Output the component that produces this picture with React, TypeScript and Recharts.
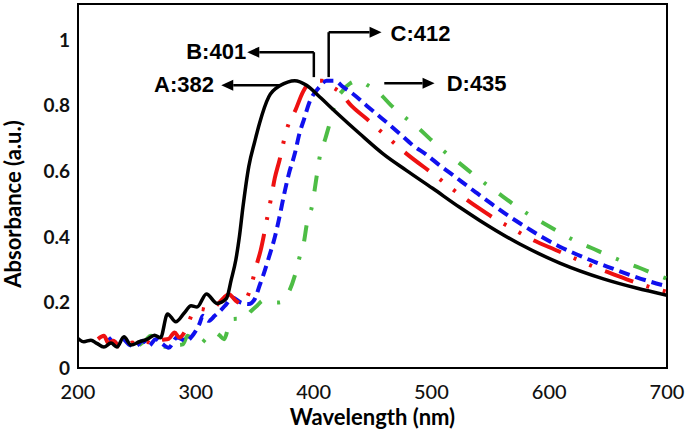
import React from 'react'
import {
  ComposedChart,
  Line,
  XAxis,
  YAxis,
  ReferenceLine,
  ReferenceDot,
  ReferenceArea,
  Label,
} from 'recharts'

// A: 382 nm (black, solid)
const wavelengthA = [200, 205, 211, 216, 222, 228, 233, 239, 245, 252, 259, 265, 270, 276, 283, 290, 296, 301, 309, 318, 326, 330, 334, 337, 340, 345, 350, 354, 362, 372, 378, 384, 394, 405, 419, 439, 459, 479, 501, 524, 541, 575, 609, 646, 674, 700]
const absorbanceA = [0.09, 0.08, 0.085, 0.075, 0.064, 0.076, 0.064, 0.095, 0.07, 0.08, 0.088, 0.1, 0.092, 0.165, 0.141, 0.167, 0.19, 0.186, 0.226, 0.197, 0.212, 0.268, 0.33, 0.4, 0.49, 0.615, 0.69, 0.745, 0.827, 0.862, 0.872, 0.876, 0.862, 0.827, 0.78, 0.715, 0.653, 0.602, 0.548, 0.49, 0.45, 0.378, 0.32, 0.272, 0.244, 0.222]

// B: 401 nm (red, dash-dot-dot)
const wavelengthB = [217, 222, 226, 230, 235, 240, 246, 252, 258, 264, 270, 277, 282, 286, 292, 297, 304, 312, 320, 324, 328, 334, 339, 347, 351, 355, 361, 364, 367, 371, 377, 385, 391, 396, 401, 407, 413, 422, 432, 445, 456, 479, 504, 517, 540, 554, 568, 582, 608, 623, 637, 653, 679, 700]
const absorbanceB = [0.088, 0.098, 0.075, 0.083, 0.065, 0.06, 0.078, 0.07, 0.08, 0.072, 0.085, 0.089, 0.108, 0.093, 0.12, 0.164, 0.18, 0.175, 0.2, 0.215, 0.225, 0.205, 0.195, 0.25, 0.307, 0.358, 0.465, 0.52, 0.578, 0.633, 0.725, 0.79, 0.842, 0.868, 0.876, 0.876, 0.862, 0.842, 0.8, 0.76, 0.725, 0.653, 0.585, 0.548, 0.488, 0.455, 0.427, 0.398, 0.356, 0.332, 0.31, 0.288, 0.254, 0.232]

// C: 412 nm (blue, dashed)
const wavelengthC = [226, 232, 238, 244, 249, 255, 260, 266, 271, 277, 284, 292, 297, 303, 306, 311, 316, 321, 326, 331, 338, 345, 350, 354, 357, 362, 367, 371, 375, 379, 384, 388, 392, 396, 405, 411, 418, 425, 433, 445, 453, 465, 473, 484, 496, 507, 518, 525, 538, 552, 567, 581, 595, 609, 623, 639, 654, 670, 686, 700]
const absorbanceC = [0.093, 0.077, 0.088, 0.07, 0.067, 0.083, 0.067, 0.088, 0.075, 0.062, 0.093, 0.083, 0.098, 0.134, 0.159, 0.144, 0.159, 0.175, 0.195, 0.215, 0.2, 0.195, 0.21, 0.25, 0.28, 0.337, 0.398, 0.46, 0.53, 0.592, 0.653, 0.715, 0.76, 0.806, 0.857, 0.876, 0.876, 0.857, 0.837, 0.8, 0.776, 0.74, 0.715, 0.68, 0.65, 0.618, 0.589, 0.57, 0.535, 0.498, 0.46, 0.428, 0.397, 0.37, 0.347, 0.323, 0.303, 0.282, 0.263, 0.249]

// D: 435 nm (green, dash-dot)
const wavelengthD = [252, 257, 262, 268, 274, 280, 285, 289, 293, 298, 303, 309, 316, 320, 324, 330, 335, 340, 347, 352, 357, 364, 371, 378, 384, 388, 392, 394, 399, 402, 405, 410, 414, 418, 425, 431, 438, 446, 456, 466, 479, 490, 499, 511, 523, 535, 547, 558, 571, 584, 596, 609, 623, 636, 649, 664, 677, 691, 700]
const absorbanceD = [0.07, 0.083, 0.098, 0.075, 0.065, 0.08, 0.07, 0.072, 0.098, 0.08, 0.072, 0.09, 0.108, 0.1, 0.088, 0.149, 0.15, 0.149, 0.174, 0.19, 0.205, 0.2, 0.2, 0.225, 0.281, 0.337, 0.388, 0.434, 0.5, 0.57, 0.64, 0.7, 0.75, 0.806, 0.847, 0.868, 0.876, 0.862, 0.837, 0.8, 0.76, 0.728, 0.698, 0.66, 0.627, 0.592, 0.559, 0.53, 0.496, 0.465, 0.44, 0.413, 0.386, 0.366, 0.345, 0.323, 0.305, 0.284, 0.272]

const xTicks = [200, 300, 400, 500, 600, 700]
const yTicks = [0, 0.2, 0.4, 0.6, 0.8, 1]

const toPoints = (xs: number[], ys: number[]) => xs.map((x, i) => ({ x, y: ys[i] }))

const seriesA = toPoints(wavelengthA, absorbanceA)
const seriesB = toPoints(wavelengthB, absorbanceB)
const seriesC = toPoints(wavelengthC, absorbanceC)
const seriesD = toPoints(wavelengthD, absorbanceD)

const tickFont = 'Lato, "Open Sans", sans-serif'
const noteFont = '"Liberation Sans", Arial, sans-serif'

// straight line ending in a filled arrow head
const ArrowShape = (props: any) => {
  const { x1, y1, x2, y2 } = props
  const ang = Math.atan2(y2 - y1, x2 - x1)
  const len = 12
  const w = 5.5
  const bx = x2 - len * Math.cos(ang)
  const by = y2 - len * Math.sin(ang)
  const pts = [
    `${x2},${y2}`,
    `${bx + w * Math.sin(ang)},${by - w * Math.cos(ang)}`,
    `${bx - w * Math.sin(ang)},${by + w * Math.cos(ang)}`,
  ].join(' ')
  return (
    <g>
      <line x1={x1} y1={y1} x2={bx} y2={by} stroke="#000" strokeWidth={2.5} />
      <polygon points={pts} fill="#000" />
    </g>
  )
}

const PlainShape = (props: any) => {
  const { x1, y1, x2, y2 } = props
  return <line x1={x1} y1={y1} x2={x2} y2={y2} stroke="#000" strokeWidth={2.5} />
}

const noteLabel = (value: string) => ({
  value,
  position: 'center' as const,
  fill: '#000',
  fontSize: 22,
  fontWeight: 700,
  fontFamily: noteFont,
})

export default function App() {
  return (
    <div style={{ position: 'absolute', left: 0, top: 0, background: '#fff' }}>
      <ComposedChart width={685} height={436} margin={{ top: 4, right: 18, bottom: 0, left: 0 }}>
        <XAxis
          type="number"
          dataKey="x"
          domain={[200, 700]}
          ticks={xTicks}
          allowDataOverflow
          tickLine={false}
          tickMargin={11}
          height={68}
          axisLine={{ stroke: '#000', strokeWidth: 2 }}
          tick={{ fill: '#111', fontSize: 20, fontFamily: tickFont, fontWeight: 500 }}
        >
          <Label
            content={(p: any) => {
              const vb = p.viewBox
              return (
                <text
                  x={vb.x + vb.width / 2}
                  y={425}
                  textAnchor="middle"
                  fontSize={22}
                  fontWeight={700}
                  fontFamily={tickFont}
                  fill="#000"
                >
                  Wavelength (nm)
                </text>
              )
            }}
          />
        </XAxis>
        <YAxis
          type="number"
          dataKey="y"
          domain={[0, 1.11]}
          ticks={yTicks}
          allowDataOverflow
          tickLine={false}
          width={78}
          axisLine={{ stroke: '#000', strokeWidth: 2 }}
          tick={{ fill: '#111', fontSize: 19, fontFamily: tickFont, fontWeight: 700 }}
        >
          <Label
            content={(p: any) => {
              const vb = p.viewBox
              const cy = 204
              return (
                <text
                  x={vb.x + 21}
                  y={cy}
                  transform={`rotate(-90, ${vb.x + 21}, ${cy})`}
                  textAnchor="middle"
                  fontSize={22}
                  fontWeight={700}
                  fontFamily={tickFont}
                  fill="#000"
                >
                  Absorbance (a.u.)
                </text>
              )
            }}
          />
        </YAxis>

        <ReferenceArea x1={200} x2={700} y1={0} y2={1.11} fill="none" stroke="#000" strokeWidth={2} ifOverflow="visible" />

        <Line data={seriesD} dataKey="y" type="monotone" stroke="#4dbd45" strokeWidth={4} strokeDasharray="16 16 3 16" dot={false} isAnimationActive={false} />
        <Line data={seriesC} dataKey="y" type="monotone" stroke="#1010ee" strokeWidth={4} strokeDasharray="11 6" dot={false} isAnimationActive={false} />
        <Line data={seriesB} dataKey="y" type="monotone" stroke="#ee1111" strokeWidth={4} strokeDasharray="30 14 3 14 3 14" dot={false} isAnimationActive={false} />
        <Line data={seriesA} dataKey="y" type="monotone" stroke="#000" strokeWidth={3.5} dot={false} isAnimationActive={false} />

        {/* peak call-outs */}
        <ReferenceLine segment={[{ x: 372.6, y: 0.862 }, { x: 321.6, y: 0.862 }]} shape={ArrowShape} ifOverflow="visible" />
        <ReferenceLine segment={[{ x: 400.2, y: 0.887 }, { x: 400.2, y: 0.963 }]} shape={PlainShape} ifOverflow="visible" />
        <ReferenceLine segment={[{ x: 400.2, y: 0.963 }, { x: 343.7, y: 0.963 }]} shape={ArrowShape} ifOverflow="visible" />
        <ReferenceLine segment={[{ x: 412.8, y: 0.887 }, { x: 412.8, y: 1.024 }]} shape={PlainShape} ifOverflow="visible" />
        <ReferenceLine segment={[{ x: 412.8, y: 1.024 }, { x: 457.7, y: 1.024 }]} shape={ArrowShape} ifOverflow="visible" />
        <ReferenceLine segment={[{ x: 460, y: 0.868 }, { x: 502.7, y: 0.868 }]} shape={ArrowShape} ifOverflow="visible" />

        <ReferenceDot x={290} y={0.865} r={0} fill="none" stroke="none" label={noteLabel('A:382')} />
        <ReferenceDot x={317.3} y={0.966} r={0} fill="none" stroke="none" label={noteLabel('B:401')} />
        <ReferenceDot x={490.8} y={1.021} r={0} fill="none" stroke="none" label={noteLabel('C:412')} />
        <ReferenceDot x={538.4} y={0.868} r={0} fill="none" stroke="none" label={noteLabel('D:435')} />
      </ComposedChart>
    </div>
  )
}
